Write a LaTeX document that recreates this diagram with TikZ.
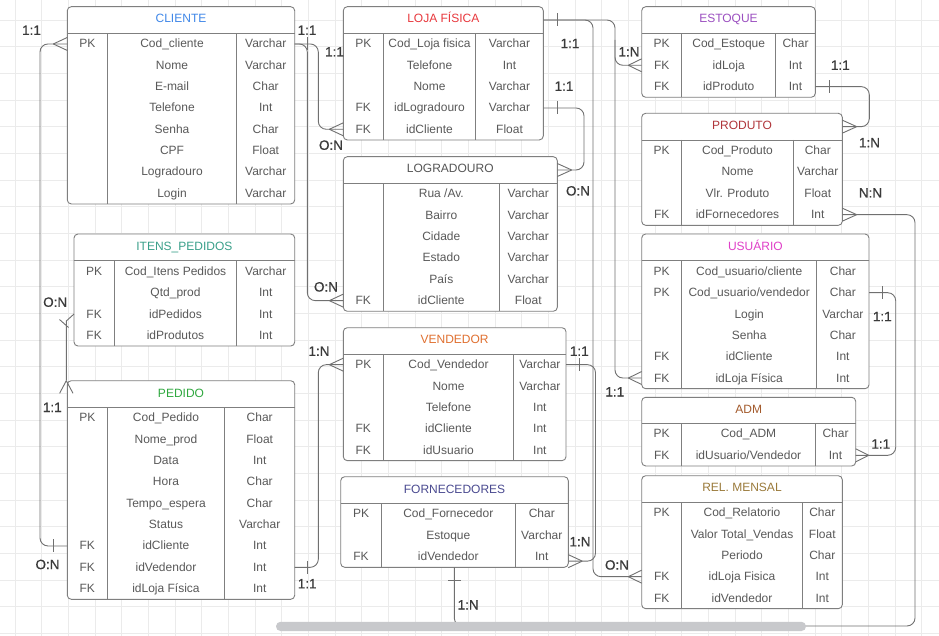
\documentclass[tikz,border=0pt]{standalone}
\usepackage{fontspec}
\setmainfont{Liberation Sans}
\newfontfamily\lblfont[FakeBold=0.5]{Liberation Sans}
\definecolor{gridc}{HTML}{EBEBEB}
\definecolor{framec}{HTML}{7F7F7F}
\definecolor{connc}{HTML}{707070}
\definecolor{cellc}{HTML}{595959}
\definecolor{lblc}{HTML}{3A3A3A}
\definecolor{scrollc}{HTML}{C8C9CC}
\definecolor{cCli}{HTML}{3F87E8}
\definecolor{cLoja}{HTML}{E8383D}
\definecolor{cEst}{HTML}{9B4FC0}
\definecolor{cProd}{HTML}{B0353A}
\definecolor{cUsu}{HTML}{E040C8}
\definecolor{cAdm}{HTML}{A35A2C}
\definecolor{cRel}{HTML}{9A7A3A}
\definecolor{cItens}{HTML}{3AA08A}
\definecolor{cPed}{HTML}{2FA83F}
\definecolor{cLog}{HTML}{555555}
\definecolor{cVen}{HTML}{E07030}
\definecolor{cForn}{HTML}{4A4A90}
\tikzset{
 tabframe/.style={draw=framec, line width=0.9pt, fill=white, rounded corners=4pt, inner sep=0pt, outer sep=0pt, rectangle},
 tabline/.style={draw=framec, line width=0.9pt},
 titletext/.style={font=\fontsize{12}{14}\selectfont, anchor=base, inner sep=0pt},
 celltext/.style={font=\fontsize{12}{14}\selectfont, text=cellc, anchor=base, inner sep=0pt, yshift=-4.0pt},
 conn/.style={draw=connc, line width=0.9pt},
 rconn/.style={conn, rounded corners=8pt},
 lbl/.style={font=\lblfont\fontsize{13.5}{16}\selectfont, text=lblc, anchor=base, inner sep=0pt, yshift=-4.8pt},
 gridline/.style={draw=gridc, line width=0.6pt},
}
\newcommand\ertab[9]{%
 \def\tN{#1}\def\tL{#2}\def\tT{#3}\def\tR{#4}\def\tH{#5}\def\tA{#6}\def\tB{#7}%
 \pgfmathsetmacro\tBot{#5+#8*21.333}%
 \pgfmathsetmacro\tW{#4-#2}\pgfmathsetmacro\tHt{\tBot-#3}%
 \pgfmathsetmacro\tCx{(#2+#4)/2}\pgfmathsetmacro\tCy{(#3+\tBot)/2}%
 \pgfmathsetmacro\tTc{(#3+#5)/2}%
 \node[tabframe, minimum width=\tW pt, minimum height=\tHt pt] (#1) at (\tCx,\tCy) {};
 \draw[tabline] (#2,#5) -- (#4,#5) (#6,#5) -- (#6,\tBot) (#7,#5) -- (#7,\tBot);
 \node[titletext, yshift=-3pt] (#1-title) at (\tCx,\tTc) {#9};
 \coordinate (#1-t-w) at (#2,\tTc);
 \coordinate (#1-t-e) at (#4,\tTc);
}
\newcommand\erow[4]{%
 \pgfmathsetmacro\rc{\tH+(#1-0.5)*21.333}%
 \pgfmathsetmacro\kx{(\tL+\tA)/2}\pgfmathsetmacro\fx{(\tA+\tB)/2}\pgfmathsetmacro\yx{(\tB+\tR)/2}%
 \node[celltext] (\tN-#1-k) at (\kx,\rc) {#2};
 \node[celltext] (\tN-#1) at (\fx,\rc) {#3};
 \node[celltext] (\tN-#1-y) at (\yx,\rc) {#4};
 \coordinate (\tN-#1-w) at (\tL,\rc);
 \coordinate (\tN-#1-e) at (\tR,\rc);
}
\newcommand\crowH[2]{\draw[conn] ([xshift=#2]#1) -- ([yshift=6.5pt]#1) ([xshift=#2]#1) -- ([yshift=-6.5pt]#1);}
\newcommand\tickH[2]{\draw[conn] ([xshift=#2,yshift=6.5pt]#1) -- ([xshift=#2,yshift=-6.5pt]#1);}
\newcommand\tickV[2]{\draw[conn] ([yshift=#2,xshift=6.5pt]#1) -- ([yshift=#2,xshift=-6.5pt]#1);}
\begin{document}
\begin{tikzpicture}[x=1pt,y=-1pt]
\useasboundingbox (0,0) rectangle (939,636);
\fill[white] (0,0) rectangle (939,636);
\foreach \i in {0,...,34} {\draw[gridline] ({15+\i*26.6667},0) -- ({15+\i*26.6667},636);}
\foreach \j in {0,...,23} {\draw[gridline] (0,{20+\j*26.6667}) -- (939,{20+\j*26.6667});}

% ---------------- tables
\ertab{cli}{67.3}{6.7}{294.7}{33.3}{107.3}{236.7}{8}{\textcolor{cCli}{CLIENTE}}
\erow{1}{PK}{Cod\_cliente}{Varchar}
\erow{2}{}{Nome}{Varchar}
\erow{3}{}{E-mail}{Char}
\erow{4}{}{Telefone}{Int}
\erow{5}{}{Senha}{Char}
\erow{6}{}{CPF}{Float}
\erow{7}{}{Logradouro}{Varchar}
\erow{8}{}{Login}{Varchar}

\ertab{loja}{343.3}{6.7}{543.3}{33.3}{383.3}{475.7}{5}{\textcolor{cLoja}{LOJA FÍSICA}}
\erow{1}{PK}{Cod\_Loja fisica}{Varchar}
\erow{2}{}{Telefone}{Int}
\erow{3}{}{Nome}{Varchar}
\erow{4}{FK}{idLogradouro}{Varchar}
\erow{5}{FK}{idCliente}{Float}

\ertab{log}{343.3}{156.7}{557.3}{183.3}{383.3}{499.3}{6}{\textcolor{cLog}{LOGRADOURO}}
\erow{1}{}{Rua /Av.}{Varchar}
\erow{2}{}{Bairro}{Varchar}
\erow{3}{}{Cidade}{Varchar}
\erow{4}{}{Estado}{Varchar}
\erow{5}{}{País}{Varchar}
\erow{6}{FK}{idCliente}{Float}

\ertab{ven}{343.3}{327.7}{566}{354}{383.3}{513.7}{5}{\textcolor{cVen}{VENDEDOR}}
\erow{1}{PK}{Cod\_Vendedor}{Varchar}
\erow{2}{}{Nome}{Varchar}
\erow{3}{}{Telefone}{Int}
\erow{4}{FK}{idCliente}{Int}
\erow{5}{FK}{idUsuario}{Int}

\ertab{forn}{340.7}{476.7}{568.3}{503.3}{381.3}{515.3}{3}{\textcolor{cForn}{FORNECEDORES}}
\erow{1}{PK}{Cod\_Fornecedor}{Char}
\erow{2}{}{Estoque}{Varchar}
\erow{3}{FK}{idVendedor}{Int}

\ertab{est}{641.7}{6.7}{815.3}{33.3}{681.7}{775.7}{3}{\textcolor{cEst}{ESTOQUE}}
\erow{1}{PK}{Cod\_Estoque}{Char}
\erow{2}{FK}{idLoja}{Int}
\erow{3}{FK}{idProduto}{Int}

\ertab{prod}{641.7}{113.3}{842.3}{140}{681.7}{793.3}{4}{\textcolor{cProd}{PRODUTO}}
\erow{1}{PK}{Cod\_Produto}{Char}
\erow{2}{}{Nome}{Varchar}
\erow{3}{}{Vlr. Produto}{Float}
\erow{4}{FK}{idFornecedores}{Int}

\ertab{usu}{641.7}{234}{869}{260.7}{681.7}{816.7}{6}{\textcolor{cUsu}{USUÁRIO}}
\erow{1}{PK}{Cod\_usuario/cliente}{Char}
\erow{2}{PK}{Cod\_usuario/vendedor}{Char}
\erow{3}{}{Login}{Varchar}
\erow{4}{}{Senha}{Char}
\erow{5}{FK}{idCliente}{Int}
\erow{6}{FK}{idLoja Física}{Int}

\ertab{adm}{641.7}{397.3}{855.7}{423.3}{681.7}{815.3}{2}{\textcolor{cAdm}{ADM}}
\erow{1}{PK}{Cod\_ADM}{Char}
\erow{2}{FK}{idUsuario/Vendedor}{Int}

\ertab{rel}{641.7}{475.7}{842.3}{502}{681.7}{802.3}{5}{\textcolor{cRel}{REL. MENSAL}}
\erow{1}{PK}{Cod\_Relatorio}{Char}
\erow{2}{}{Valor Total\_Vendas}{Float}
\erow{3}{}{Periodo}{Char}
\erow{4}{FK}{idLoja Fisica}{Int}
\erow{5}{FK}{idVendedor}{Int}

\ertab{itens}{74}{234}{294.7}{260.7}{114.3}{236.7}{4}{\textcolor{cItens}{ITENS\_PEDIDOS}}
\erow{1}{PK}{Cod\_Itens Pedidos}{Varchar}
\erow{2}{}{Qtd\_prod}{Int}
\erow{3}{FK}{idPedidos}{Int}
\erow{4}{FK}{idProdutos}{Int}

\ertab{ped}{67.3}{380.7}{294.7}{407.3}{107.3}{224.7}{9}{\textcolor{cPed}{PEDIDO}}
\erow{1}{PK}{Cod\_Pedido}{Char}
\erow{2}{}{Nome\_prod}{Float}
\erow{3}{}{Data}{Int}
\erow{4}{}{Hora}{Char}
\erow{5}{}{Tempo\_espera}{Char}
\erow{6}{}{Status}{Varchar}
\erow{7}{FK}{idCliente}{Int}
\erow{8}{FK}{idVedendor}{Int}
\erow{9}{FK}{idLoja Física}{Int}

% ---------------- connectors
\coordinate (fornB) at (forn.south -| 454.3,0);
\coordinate (fornR) at ([yshift=-4.5pt]forn-3-e);
\coordinate (pedTop) at (66.3,0 |- ped.north);

% CLIENTE - PEDIDO
\draw[rconn] (cli-1-w) -| (40,0 |- ped-7-w) -- (ped-7-w);
\crowH{cli-1-w}{-14pt}
\tickH{ped-7-w}{-14pt}
% CLIENTE - LOJA
\draw[rconn] (cli-1-e) -| (318.3,0 |- loja-5-w) -- (loja-5-w);
\crowH{loja-5-w}{-14pt}
% CLIENTE - LOGRADOURO
\draw[rconn] (cli-1-e) -| (307.3,0 |- log-6-w) -- (log-6-w);
\crowH{log-6-w}{-14pt}
\tickH{cli-1-e}{12.6pt}
% LOJA - REL. MENSAL
\draw[rconn] (loja-t-e) -| (593,0 |- rel-4-w) -- (rel-4-w);
\crowH{rel-4-w}{-13.4pt}
% LOJA - USUARIO / ESTOQUE
\draw[rconn] (loja-t-e) -| (615,0 |- usu-6-w) -- (usu-6-w);
\draw[rconn] (615,40) |- (est-2-w);
\crowH{usu-6-w}{-13.4pt}
\crowH{est-2-w}{-13.4pt}
\tickH{loja-t-e}{14pt}
% LOJA - LOGRADOURO
\draw[rconn] (loja-4-e) -| (584,0 |- log-t-e) -- (log-t-e);
\crowH{log-t-e}{14.4pt}
\tickH{loja-4-e}{14.4pt}
% ESTOQUE - PRODUTO
\draw[rconn] (est-3-e) -| (869.3,0 |- prod-t-e) -- (prod-t-e);
\crowH{prod-t-e}{14.4pt}
\tickH{est-3-e}{14pt}
% PRODUTO - FORNECEDORES
\draw[rconn] (prod-4-e) -| (915,626) -| (fornB);
\crowH{prod-4-e}{14.4pt}
\tickV{fornB}{-13.3pt}
% USUARIO - ADM
\draw[rconn] (usu-2-e) -| (895.7,0 |- adm-2-e) -- (adm-2-e);
\crowH{adm-2-e}{13pt}
\tickH{usu-2-e}{13.7pt}
% ITENS - PEDIDO
\draw[conn] (itens-3-w) -- (66.3,321) -- (pedTop);
\draw[conn] (pedTop) -- ++(-6.7,12.6) (pedTop) -- ++(6.7,12.6);
\draw[conn] (59.5,319.5) -- (68.5,327.5);
% PEDIDO - VENDEDOR
\draw[rconn] (ped-8-e) -| (318.3,0 |- ven-1-w) -- (ven-1-w);
\crowH{ven-1-w}{-14pt}
\tickH{ped-8-e}{12.6pt}
% VENDEDOR - FORNECEDORES
\draw[rconn] (ven-1-e) -| (595.5,0 |- fornR) -- (fornR);
\crowH{fornR}{14pt}
\tickH{ven-1-e}{13.7pt}

% ---------------- labels
\node[lbl] (l1) at (31.5,30) {1:1};
\node[lbl] (l2) at (307,30) {1:1};
\node[lbl] (l3) at (334.5,51.7) {1:1};
\node[lbl] (l4) at (331,145) {O:N};
\node[lbl] (l5) at (326,286.7) {O:N};
\node[lbl] (l6) at (319,351) {1:N};
\node[lbl] (l7) at (307.2,583.5) {1:1};
\node[lbl] (l8) at (47.5,564.3) {O:N};
\node[lbl] (l9) at (55.2,302) {O:N};
\node[lbl] (l10) at (52.3,407.2) {1:1};
\node[lbl] (l11) at (570,43.3) {1:1};
\node[lbl] (l12) at (564,86) {1:1};
\node[lbl] (l13) at (578,190.7) {O:N};
\node[lbl] (l14) at (579.3,351) {1:1};
\node[lbl] (l15) at (580,541.5) {1:N};
\node[lbl] (l16) at (468.2,604.7) {1:N};
\node[lbl] (l17) at (617,564.8) {O:N};
\node[lbl] (l18) at (629,51.7) {1:N};
\node[lbl] (l19) at (840.3,65) {1:1};
\node[lbl] (l20) at (869.5,142.5) {1:N};
\node[lbl] (l21) at (870.5,192.7) {N:N};
\node[lbl] (l22) at (614.8,391.7) {1:1};
\node[lbl] (l23) at (882.3,316.4) {1:1};
\node[lbl] (l24) at (880.8,443.8) {1:1};

% ---------------- scrollbar
\fill[scrollc, rounded corners=4.5pt] (276,621.8) rectangle (806,631);
\end{tikzpicture}
\end{document}
